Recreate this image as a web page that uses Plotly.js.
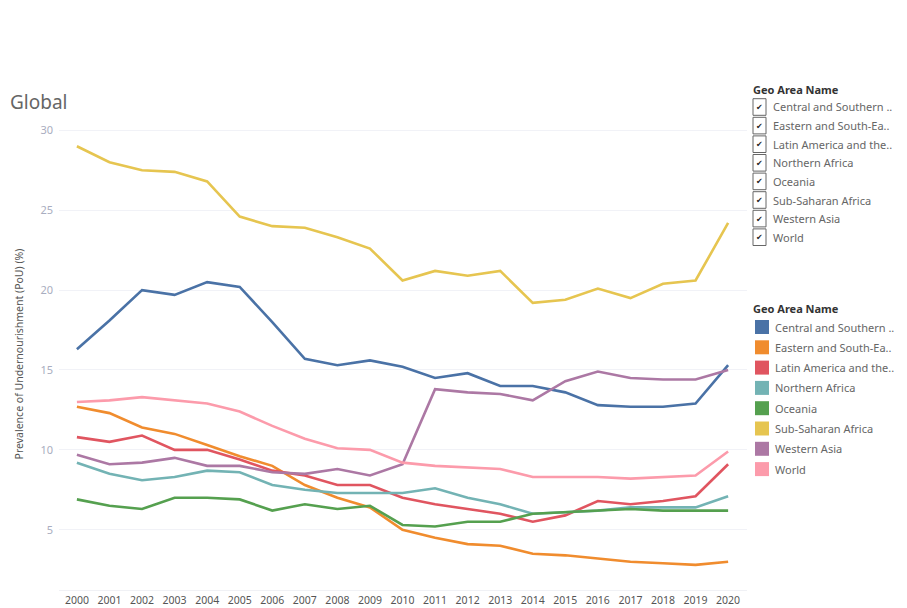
<!DOCTYPE html>
<html>
<head>
<meta charset="utf-8">
<script src="https://cdn.plot.ly/plotly-3.0.1.min.js"></script>
<style>
  html, body { margin: 0; padding: 0; background: #ffffff; }
  #chart { width: 907px; height: 608px; }
</style>
</head>
<body>
<div id="chart"></div>
<script>
const years = [2000,2001,2002,2003,2004,2005,2006,2007,2008,2009,2010,2011,2012,2013,2014,2015,2016,2017,2018,2019,2020];

const seriesNames = ["Central and Southern Asia","Eastern and South-Eastern Asia","Latin America and the Caribbean","Northern Africa","Oceania","Sub-Saharan Africa","Western Asia","World"];
const legendLabels = ["Central and Southern ..","Eastern and South-Ea..","Latin America and the..","Northern Africa","Oceania","Sub-Saharan Africa","Western Asia","World"];
const seriesColors = ["#4a72a6","#f08c2e","#e05560","#73b3b4","#55a04f","#e6c550","#ac78a4","#fc9bab"];

const centralSouthernAsia = [16.3,18.1,20.0,19.7,20.5,20.2,18.0,15.7,15.3,15.6,15.2,14.5,14.8,14.0,14.0,13.6,12.8,12.7,12.7,12.9,15.3];
const easternSouthEasternAsia = [12.7,12.3,11.4,11.0,10.3,9.6,9.0,7.8,7.0,6.4,5.0,4.5,4.1,4.0,3.5,3.4,3.2,3.0,2.9,2.8,3.0];
const latinAmerica = [10.8,10.5,10.9,10.0,10.0,9.4,8.7,8.4,7.8,7.8,7.0,6.6,6.3,6.0,5.5,5.9,6.8,6.6,6.8,7.1,9.1];
const northernAfrica = [9.2,8.5,8.1,8.3,8.7,8.6,7.8,7.5,7.3,7.3,7.3,7.6,7.0,6.6,6.0,6.1,6.2,6.4,6.4,6.4,7.1];
const oceania = [6.9,6.5,6.3,7.0,7.0,6.9,6.2,6.6,6.3,6.5,5.3,5.2,5.5,5.5,6.0,6.1,6.2,6.3,6.2,6.2,6.2];
const subSaharanAfrica = [29.0,28.0,27.5,27.4,26.8,24.6,24.0,23.9,23.3,22.6,20.6,21.2,20.9,21.2,19.2,19.4,20.1,19.5,20.4,20.6,24.2];
const westernAsia = [9.7,9.1,9.2,9.5,9.0,9.0,8.6,8.5,8.8,8.4,9.1,13.8,13.6,13.5,13.1,14.3,14.9,14.5,14.4,14.4,15.0];
const world = [13.0,13.1,13.3,13.1,12.9,12.4,11.5,10.7,10.1,10.0,9.2,9.0,8.9,8.8,8.3,8.3,8.3,8.2,8.3,8.4,9.9];

const seriesValues = [centralSouthernAsia, easternSouthEasternAsia, latinAmerica, northernAfrica, oceania, subSaharanAfrica, westernAsia, world];

const yTicks = [5,10,15,20,25,30];
const chartTitle = "Global";
const yTitle = "Prevalence of Undernourishment (PoU) (%)";
const legendTitle = "Geo Area Name";

const W = 907, H = 608;
const font = "Noto Sans, Open Sans, sans-serif";
const M = { l: 59, r: 160, t: 118, b: 18 };
const plotW = W - M.l - M.r, plotH = H - M.t - M.b;
// convert page pixels to paper coordinates of the plot area (legend placement only)
const toPaperX = v => (v - M.l) / plotW;
const toPaperY = v => (H - M.b - v) / plotH;

const traces = seriesNames.map((name, i) => ({
  type: "scatter",
  mode: "lines",
  name: name,
  x: years,
  y: seriesValues[i],
  line: { color: seriesColors[i], width: 2.6 },
  showlegend: false,
  hoverinfo: "x+y+name"
}));

const shapes = [];
const annotations = [];

// Legend 1: filter checkboxes
annotations.push({
  xref: "paper", yref: "paper", x: toPaperX(751), y: toPaperY(89), xanchor: "left", yanchor: "middle",
  text: "<b>" + legendTitle + "</b>", showarrow: false,
  font: { family: font, size: 11, color: "#333333" }
});
legendLabels.forEach((lab, i) => {
  const cy = 107 + i * 18.6;
  shapes.push({
    type: "rect", xref: "paper", yref: "paper",
    x0: toPaperX(753), x1: toPaperX(766), y0: toPaperY(cy - 8.3), y1: toPaperY(cy + 8.3),
    line: { color: "#666666", width: 1 }, fillcolor: "#ffffff"
  });
  annotations.push({
    xref: "paper", yref: "paper", x: toPaperX(759.5), y: toPaperY(cy + 0.5), xanchor: "center", yanchor: "middle",
    text: "✔", showarrow: false, font: { family: "DejaVu Sans", size: 8, color: "#222222" }
  });
  annotations.push({
    xref: "paper", yref: "paper", x: toPaperX(771), y: toPaperY(cy), xanchor: "left", yanchor: "middle",
    text: lab, showarrow: false, font: { family: font, size: 11, color: "#666666" }
  });
});

// Legend 2: colour legend
annotations.push({
  xref: "paper", yref: "paper", x: toPaperX(751), y: toPaperY(308), xanchor: "left", yanchor: "middle",
  text: "<b>" + legendTitle + "</b>", showarrow: false,
  font: { family: font, size: 11, color: "#333333" }
});
legendLabels.forEach((lab, i) => {
  const cy = 327 + i * 20.3;
  shapes.push({
    type: "rect", xref: "paper", yref: "paper",
    x0: toPaperX(755), x1: toPaperX(769), y0: toPaperY(cy - 7), y1: toPaperY(cy + 7),
    line: { width: 0 }, fillcolor: seriesColors[i]
  });
  annotations.push({
    xref: "paper", yref: "paper", x: toPaperX(773), y: toPaperY(cy), xanchor: "left", yanchor: "middle",
    text: lab, showarrow: false, font: { family: font, size: 11, color: "#666666" }
  });
});

const layout = {
  width: W, height: H,
  margin: M,
  paper_bgcolor: "#ffffff",
  plot_bgcolor: "#ffffff",
  title: {
    text: chartTitle,
    xref: "container", yref: "container",
    x: 10 / W, y: 1 - 102 / H, xanchor: "left", yanchor: "middle",
    font: { family: font, size: 19, color: "#666666" }
  },
  xaxis: {
    range: [1999.45, 2020.58],
    tickmode: "array",
    tickvals: years,
    ticktext: years.map(String),
    tickfont: { family: font, size: 10.5, color: "#555555" },
    showgrid: false,
    zeroline: false,
    showline: true,
    linecolor: "#f0f1f5",
    linewidth: 1,
    ticks: "",
    fixedrange: true
  },
  yaxis: {
    range: [1.23, 30.77],
    tickmode: "array",
    tickvals: yTicks,
    ticktext: yTicks.map(String),
    tickfont: { family: font, size: 11, color: "#a9adc0" },
    ticklabelstandoff: 5,
    showgrid: true,
    gridcolor: "#f1f2f7",
    gridwidth: 1,
    zeroline: false,
    showline: false,
    ticks: "",
    title: {
      text: yTitle,
      standoff: 14,
      font: { family: font, size: 10.5, color: "#555555" }
    },
    fixedrange: true
  },
  shapes: shapes,
  annotations: annotations,
  showlegend: false
};

Plotly.newPlot("chart", traces, layout, { displayModeBar: false, staticPlot: true });
</script>
</body>
</html>
